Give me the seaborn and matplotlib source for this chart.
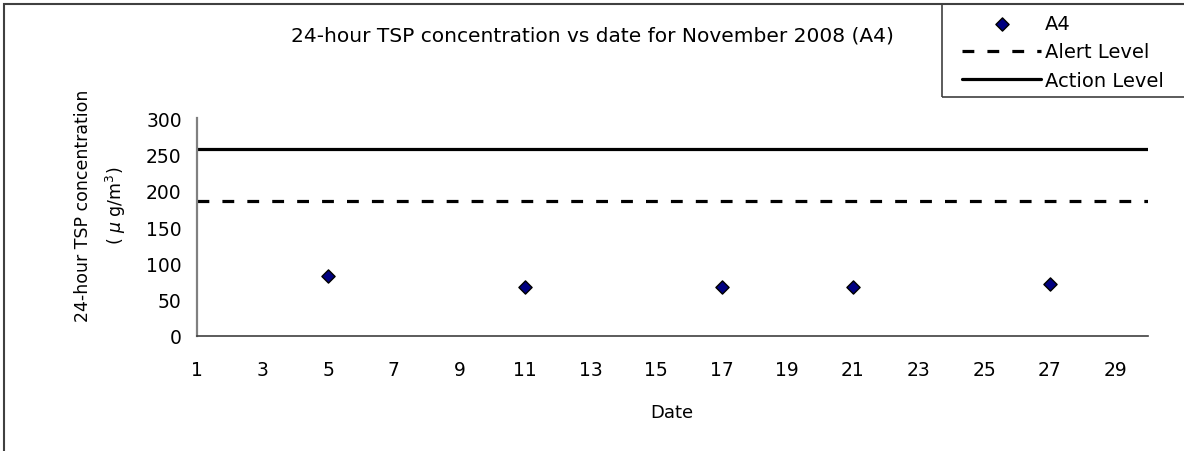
import matplotlib.pyplot as plt
import matplotlib.patches as patches
import numpy as np
import pandas as pd
import seaborn as sns

# data
dates = [5, 11, 17, 21, 27]
tsp = [82, 68, 68, 68, 71]
alert_level = 186
action_level = 258
station = 'A4'

sns.set_style('white')
plt.rcParams['font.family'] = ['DejaVu Sans']
plt.rcParams['text.color'] = 'black'

df = pd.DataFrame({'date': dates, 'tsp': tsp})

fig = plt.figure(figsize=(11.84, 4.52), dpi=100)
ax = fig.add_axes([197 / 1184, 1 - 337 / 452, (1148 - 197) / 1184, (337 - 119.3) / 452])

sns.scatterplot(data=df, x='date', y='tsp', marker='D', s=45, color='#000080',
                edgecolor='black', linewidth=1, zorder=3, ax=ax, label=station)
ax.axhline(alert_level, color='black', lw=2.3, ls=(0, (3.7, 4.1)), label='Alert Level')
ax.axhline(action_level, color='black', lw=2.3, label='Action Level')

ax.set_xlim(1, 30)
ax.set_ylim(0, 300)
ax.set_xticks(np.arange(1, 30, 2))
ax.set_yticks(np.arange(0, 301, 50))
ax.tick_params(axis='both', direction='in', length=5, labelsize=13.5, labelcolor='black')
ax.tick_params(axis='x', color='#808080', pad=17)
ax.tick_params(axis='y', color='#404040', pad=11)

for s in ['top', 'right']:
    ax.spines[s].set_visible(False)
ax.spines['left'].set_color('#808080')
ax.spines['left'].set_linewidth(1.6)
ax.spines['bottom'].set_color('#404040')
ax.spines['bottom'].set_linewidth(1.2)

ax.set_xlabel('')
ax.set_ylabel('')
fig.text(672 / 1184, 1 - 413 / 452, 'Date', ha='center', va='center', fontsize=13)
fig.text(101 / 1184, 1 - 206 / 452, '24-hour TSP concentration\n( $\\mu$ g/m$^3$)',
         rotation=90, ha='center', va='center', multialignment='center',
         fontsize=12.5, linespacing=1.65)
fig.text(0.5, 1 - 36 / 452, '24-hour TSP concentration vs date for November 2008 (A4)',
         ha='center', va='center', fontsize=14.5)

# outer chart border and legend box (run off the image edge like the reference)
fig.patches.append(patches.Rectangle((3.5 / 1184, -0.1), 1.2, 1 - 5 / 452 + 0.1,
                                     transform=fig.transFigure, fill=False,
                                     edgecolor='#404040', lw=1.5))
fig.patches.append(patches.Rectangle((942 / 1184, 1 - 98 / 452), 0.3, 93 / 452,
                                     transform=fig.transFigure, fill=False,
                                     edgecolor='#404040', lw=1.2))

ax.legend(loc='upper left', bbox_to_anchor=(952 / 1184, 1 - 5 / 452),
          bbox_transform=fig.transFigure, frameon=False, fontsize=14,
          handlelength=4.1, handletextpad=0.2, labelspacing=0.5, borderpad=0)

plt.savefig('out.png', dpi=100)
